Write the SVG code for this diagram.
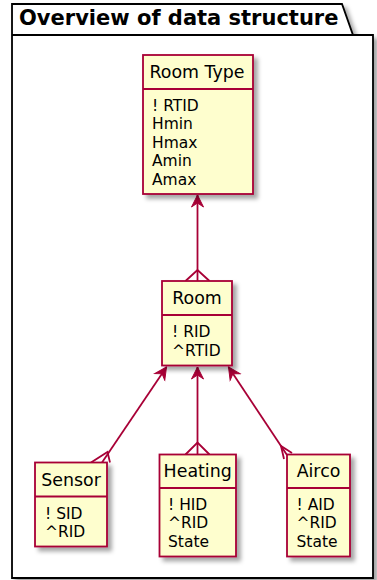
<svg xmlns="http://www.w3.org/2000/svg" width="377" height="580" viewBox="0 0 377 580">
<defs>
<filter id="sh" x="-20%" y="-20%" width="140%" height="140%">
<feDropShadow dx="4" dy="4" stdDeviation="2" flood-color="#000" flood-opacity="0.35"/>
</filter>
<marker id="arr" markerUnits="userSpaceOnUse" markerWidth="16" markerHeight="16" viewBox="-13 -8 16 16" refX="0" refY="0" orient="auto">
<path d="M0,0 L-12,-6 L-8,0 L-12,6 Z" fill="#A80036" stroke="#A80036" stroke-width="1" stroke-linejoin="miter"/>
</marker>
</defs>
<style>
.box{fill:#FEFECE;stroke:#A80036;stroke-width:1.8;filter:url(#sh)}
.div{stroke:#A80036;stroke-width:1.8}
.hd{font-family:"DejaVu Sans",sans-serif;font-size:17.4px;fill:#000;text-anchor:middle}
.at{font-family:"DejaVu Sans",sans-serif;font-size:15.5px;fill:#000}
.ln{stroke:#A80036;stroke-width:1.8;fill:none}
.pk{font-family:"DejaVu Sans",sans-serif;font-size:21px;font-weight:bold;fill:#000}
</style>
<g id="package">
<path d="M12,4 H342 L353,35 H373 V578 H12 Z" fill="#FFFFFF" stroke="#000" stroke-width="1.8" filter="url(#sh)"/>
<path d="M12,35 H353" stroke="#000" stroke-width="1.8"/>
<text class="pk" x="19" y="25">Overview of data structure</text>
</g>
<g id="connectors">
<path class="ln" d="M197.5,281 V195" marker-end="url(#arr)"/>
<path class="ln" d="M185.5,281 L197.5,270 L209.5,281"/>
<path class="ln" d="M197.5,454.5 V367" marker-end="url(#arr)"/>
<path class="ln" d="M185.5,454.5 L197.5,442.5 L209.5,454.5"/>
<path class="ln" d="M102,462.5 L166.5,367" marker-end="url(#arr)"/>
<path class="ln" d="M91,462.5 L107.5,452 L110,462.5"/>
<path class="ln" d="M287,455 L228.5,367" marker-end="url(#arr)"/>
<path class="ln" d="M284,459 L281,446 L292,453"/>
</g>
<g id="roomtype">
<rect class="box" x="143" y="55" width="110" height="139"/>
<path class="div" d="M143,89 H253"/>
<text class="hd" x="197" y="78">Room Type</text>
<text class="at" x="152" y="110.5">! RTID</text>
<text class="at" x="152" y="129">Hmin</text>
<text class="at" x="152" y="147.5">Hmax</text>
<text class="at" x="152" y="166">Amin</text>
<text class="at" x="152" y="184.5">Amax</text>
</g>
<g id="room">
<rect class="box" x="162" y="281" width="70" height="84.5"/>
<path class="div" d="M162,315 H232"/>
<text class="hd" x="197" y="304">Room</text>
<text class="at" x="172" y="337">! RID</text>
<text class="at" x="172" y="355.5">^RTID</text>
</g>
<g id="sensor">
<rect class="box" x="35" y="462.5" width="72" height="84"/>
<path class="div" d="M35,496.5 H107"/>
<text class="hd" x="71" y="486">Sensor</text>
<text class="at" x="45" y="518.5">! SID</text>
<text class="at" x="45" y="537">^RID</text>
</g>
<g id="heating">
<rect class="box" x="159.5" y="454.5" width="76.5" height="102"/>
<path class="div" d="M159.5,488 H236"/>
<text class="hd" x="197.7" y="477">Heating</text>
<text class="at" x="168" y="509.5">! HID</text>
<text class="at" x="168" y="528">^RID</text>
<text class="at" x="168" y="546.5">State</text>
</g>
<g id="airco">
<rect class="box" x="287" y="454.5" width="63" height="102"/>
<path class="div" d="M287,488 H350"/>
<text class="hd" x="318.5" y="477">Airco</text>
<text class="at" x="296.5" y="509.5">! AID</text>
<text class="at" x="296.5" y="528">^RID</text>
<text class="at" x="296.5" y="546.5">State</text>
</g>
</svg>
